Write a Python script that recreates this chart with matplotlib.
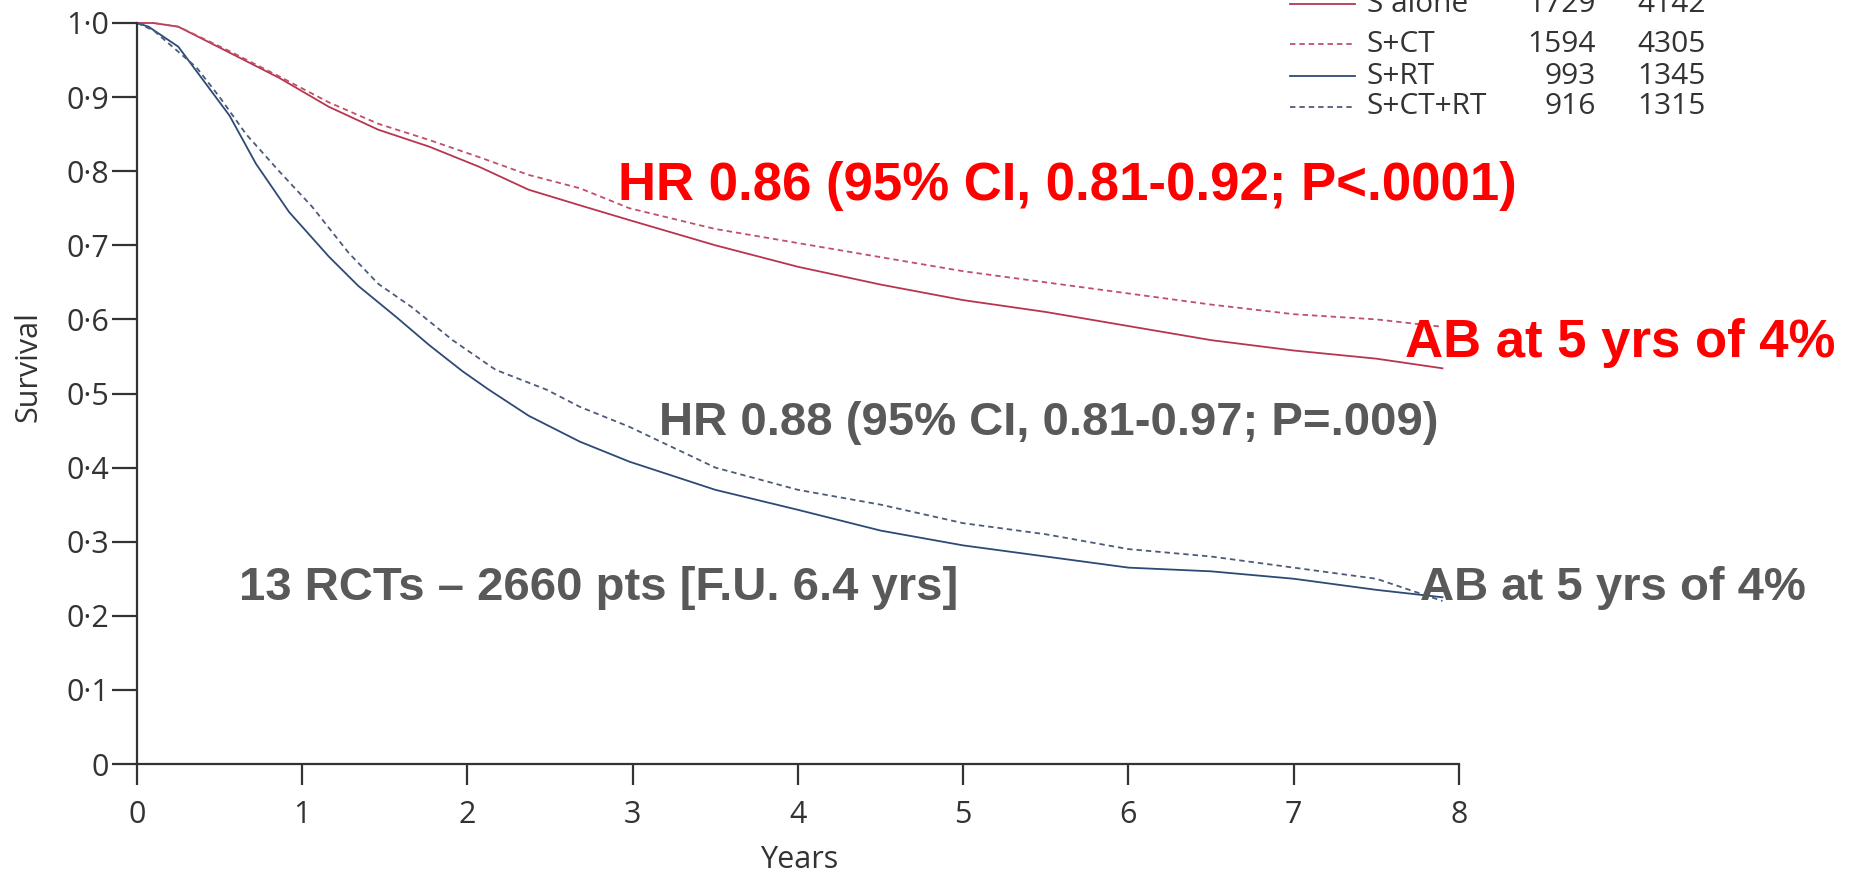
import matplotlib
matplotlib.use("Agg")
import matplotlib.pyplot as plt
import numpy as np

# =============================
# DATA (years, survival proportion)
# =============================

s_alone_t = [0, 0.1, 0.25, 0.56, 0.86, 1.16, 1.46, 1.77, 2.07, 2.37, 2.68, 2.98,
             3.5, 4.0, 4.5, 5.0, 5.5, 6.0, 6.5, 7.0, 7.5, 7.9]
s_alone_s = [1.0, 1.0, 0.995, 0.96, 0.926, 0.887, 0.856, 0.833, 0.806, 0.775, 0.754, 0.734,
             0.700, 0.671, 0.647, 0.626, 0.610, 0.591, 0.572, 0.558, 0.547, 0.534]

s_ct_t = [0, 0.1, 0.25, 0.56, 0.86, 1.16, 1.46, 1.77, 2.07, 2.37, 2.68, 2.98,
          3.5, 4.0, 4.5, 5.0, 5.5, 6.0, 6.5, 7.0, 7.5, 7.9]
s_ct_s = [1.0, 1.0, 0.995, 0.962, 0.928, 0.893, 0.864, 0.842, 0.819, 0.795, 0.777, 0.750,
          0.722, 0.703, 0.684, 0.665, 0.650, 0.635, 0.620, 0.607, 0.600, 0.590]

s_rt_t = [0, 0.07, 0.25, 0.36, 0.56, 0.72, 0.92, 1.16, 1.34, 1.57, 1.77, 1.97, 2.13,
          2.37, 2.68, 2.98, 3.5, 4.0, 4.5, 5.0, 5.5, 6.0, 6.5, 7.0, 7.5, 7.9]
s_rt_s = [1.0, 0.995, 0.968, 0.935, 0.875, 0.81, 0.745, 0.685, 0.645, 0.603, 0.565, 0.530, 0.505,
          0.470, 0.435, 0.408, 0.370, 0.343, 0.315, 0.295, 0.280, 0.265, 0.260, 0.250, 0.235, 0.225]

s_ctrt_t = [0, 0.1, 0.36, 0.5, 0.66, 0.86, 1.06, 1.28, 1.46, 1.66, 1.91, 2.17, 2.48,
            2.68, 2.98, 3.5, 4.0, 4.5, 5.0, 5.5, 6.0, 6.5, 7.0, 7.5, 7.9]
s_ctrt_s = [1.0, 0.99, 0.94, 0.90, 0.85, 0.80, 0.752, 0.690, 0.648, 0.617, 0.572, 0.532, 0.505,
            0.482, 0.455, 0.400, 0.370, 0.350, 0.325, 0.310, 0.290, 0.280, 0.265, 0.250, 0.220]

legend_labels = ["S alone", "S+CT", "S+RT", "S+CT+RT"]
legend_col1 = ["1729", "1594", "993", "916"]
legend_col2 = ["4142", "4305", "1345", "1315"]

y_ticks = [0, 0.1, 0.2, 0.3, 0.4, 0.5, 0.6, 0.7, 0.8, 0.9, 1.0]
y_ticklabels = ["0", "0·1", "0·2", "0·3", "0·4", "0·5", "0·6", "0·7", "0·8", "0·9", "1·0"]
x_ticks = [0, 1, 2, 3, 4, 5, 6, 7, 8]

# =============================
# STYLE
# =============================

RED = "#b8354f"
RED_D = "#c0506a"
BLUE = "#2d4a75"
BLUE_D = "#4d5b7a"
AXIS = "#333333"
GREY = "#595959"

W, H = 1856, 874
fig = plt.figure(figsize=(W / 100, H / 100), dpi=100)
fig.patch.set_facecolor("white")

def px(x, y):
    return x / W, 1 - y / H

x0, x1 = 137, 1459
y0, y1 = 764, 23
ax = fig.add_axes([x0 / W, 1 - y0 / H, (x1 - x0) / W, (y0 - y1) / H])

ax.plot(s_alone_t, s_alone_s, color=RED, lw=1.3, clip_on=False)
ax.plot(s_ct_t, s_ct_s, color=RED_D, lw=1.3, dashes=(3, 2.2), clip_on=False)
ax.plot(s_rt_t, s_rt_s, color=BLUE, lw=1.3, clip_on=False)
ax.plot(s_ctrt_t, s_ctrt_s, color=BLUE_D, lw=1.3, dashes=(3, 2.2), clip_on=False)

ax.set_xlim(0, 8)
ax.set_ylim(0, 1.0)
for side in ["top", "right"]:
    ax.spines[side].set_visible(False)
for side in ["left", "bottom"]:
    ax.spines[side].set_color(AXIS)
    ax.spines[side].set_linewidth(1.6)

ax.set_yticks(y_ticks)
ax.set_yticklabels(y_ticklabels)
ax.set_xticks(x_ticks)
ax.tick_params(axis="y", direction="out", length=18, width=1.6, color=AXIS,
               labelsize=22, labelcolor=AXIS, pad=2)
ax.tick_params(axis="x", direction="out", length=15, width=1.6, color=AXIS,
               labelsize=22, labelcolor=AXIS, pad=11)
for lab in ax.get_xticklabels() + ax.get_yticklabels():
    lab.set_family("Open Sans")

fig.text(*px(799, 860), "Years", ha="center", va="center", fontsize=22,
         color=AXIS, family="Open Sans")
fig.text(*px(28, 367), "Survival", ha="center", va="center", fontsize=22,
         color=AXIS, family="Open Sans", rotation=90)

# legend table (top right, partly cut by the figure edge)
leg_rows = [4, 44, 76, 107]
leg_styles = [(RED, "-"), (RED_D, "--"), (BLUE, "-"), (BLUE_D, "--")]
for ry, lab, c1, c2, (col, ls) in zip(leg_rows, legend_labels, legend_col1,
                                       legend_col2, leg_styles):
    ax_x = [1290 / W, 1355 / W]
    ax_y = [1 - ry / H, 1 - ry / H]
    line = plt.Line2D(ax_x, ax_y, transform=fig.transFigure, color=col, lw=1.3)
    if ls == "--":
        line.set_dashes((3, 2.2))
    fig.add_artist(line)
    fig.text(*px(1367, ry), lab, ha="left", va="center", fontsize=21.5,
             color=AXIS, family="Open Sans")
    fig.text(*px(1596, ry), c1, ha="right", va="center", fontsize=21.5,
             color=AXIS, family="Open Sans")
    fig.text(*px(1706, ry), c2, ha="right", va="center", fontsize=21.5,
             color=AXIS, family="Open Sans")

# annotations
bold = dict(family="Liberation Sans", fontweight="bold", va="center", ha="left")
fig.text(*px(618, 186), "HR 0.86 (95% CI, 0.81-0.92; P<.0001)", color="#ff0000",
         fontsize=38, **bold)
fig.text(*px(1405, 343), "AB at 5 yrs of 4%", color="#ff0000", fontsize=38, **bold)
fig.text(*px(659, 423), "HR 0.88 (95% CI, 0.81-0.97; P=.009)", color=GREY,
         fontsize=34, **bold)
fig.text(*px(239, 588), "13 RCTs \u2013 2660 pts [F.U. 6.4 yrs]", color=GREY,
         fontsize=34, **bold)
fig.text(*px(1420, 588), "AB at 5 yrs of 4%", color=GREY, fontsize=34, **bold)

fig.savefig("out.png", dpi=100, facecolor="white")
